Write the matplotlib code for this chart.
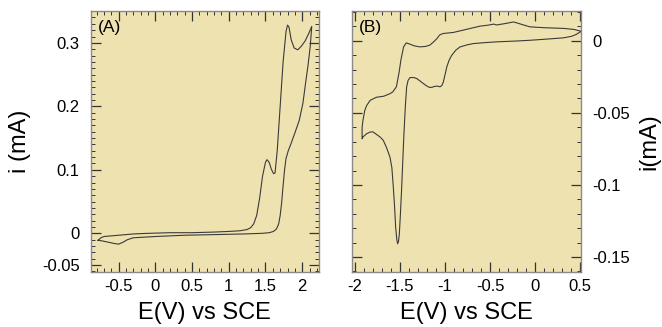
import numpy as np
import matplotlib.pyplot as plt
from matplotlib.ticker import MultipleLocator

plt.rcParams['font.family'] = ['Liberation Sans', 'DejaVu Sans']

# Panel A: barrido de ida y vuelta (E en V, i en mA)
e_a_ida = [-0.78, -0.74, -0.70, -0.60, -0.50, -0.30, -0.10, 0.20, 0.50, 0.80, 1.00,
           1.15, 1.25, 1.30, 1.34, 1.38, 1.42, 1.46, 1.50, 1.52, 1.55, 1.58, 1.61,
           1.63, 1.66, 1.70, 1.74, 1.78, 1.80, 1.82, 1.85, 1.89, 1.94, 1.99, 2.04,
           2.09, 2.13]
i_a_ida = [-0.011, -0.007, -0.005, -0.004, -0.003, -0.001, 0.000, 0.001, 0.001,
           0.002, 0.003, 0.004, 0.006, 0.009, 0.015, 0.028, 0.055, 0.090, 0.112,
           0.116, 0.112, 0.101, 0.094, 0.095, 0.130, 0.200, 0.270, 0.318, 0.328,
           0.325, 0.305, 0.292, 0.289, 0.295, 0.303, 0.315, 0.326]
e_a_vuelta = [2.13, 2.11, 2.08, 2.05, 2.01, 1.96, 1.90, 1.85, 1.81, 1.78, 1.76,
              1.74, 1.72, 1.70, 1.68, 1.65, 1.61, 1.55, 1.45, 1.20, 0.80, 0.40,
              0.00, -0.30, -0.38, -0.44, -0.50, -0.56, -0.64, -0.72, -0.78]
i_a_vuelta = [0.326, 0.295, 0.265, 0.240, 0.205, 0.178, 0.158, 0.142, 0.130,
              0.118, 0.100, 0.075, 0.048, 0.028, 0.015, 0.007, 0.003, 0.001,
              0.000, -0.001, -0.002, -0.003, -0.005, -0.007, -0.010, -0.014,
              -0.017, -0.016, -0.014, -0.012, -0.011]

# Panel B
e_b_ida = [0.51, 0.43, 0.32, 0.10, -0.06, -0.24, -0.34, -0.43, -0.46, -0.52,
           -0.61, -0.70, -0.80, -0.91, -1.02, -1.06, -1.09, -1.13, -1.17, -1.22,
           -1.28, -1.34, -1.39, -1.43, -1.46, -1.49, -1.51, -1.54, -1.58, -1.61,
           -1.68, -1.76, -1.83, -1.87, -1.89, -1.91, -1.92, -1.92]
i_b_ida = [0.0065, 0.0078, 0.0085, 0.0090, 0.0096, 0.0130, 0.0118, 0.0109,
           0.0115, 0.0108, 0.0101, 0.0088, 0.0073, 0.0057, 0.0050, 0.0040,
           0.0015, -0.0010, -0.0031, -0.0040, -0.0043, -0.0036, -0.0024,
           -0.0015, -0.0043, -0.0135, -0.0220, -0.0320, -0.0355, -0.0367,
           -0.0385, -0.0392, -0.0413, -0.0450, -0.0483, -0.0550, -0.0600, -0.0680]
e_b_vuelta = [-1.92, -1.91, -1.87, -1.83, -1.80, -1.76, -1.72, -1.685, -1.65,
              -1.611, -1.59, -1.574, -1.56, -1.548, -1.535, -1.526, -1.516,
              -1.507, -1.495, -1.481, -1.468, -1.456, -1.44, -1.426, -1.41,
              -1.389, -1.35, -1.315, -1.28, -1.241, -1.20, -1.167, -1.14, -1.111,
              -1.08, -1.056, -1.035, -1.019, -1.00, -0.981, -0.955, -0.926,
              -0.88, -0.833, -0.75, -0.685, -0.55, -0.426, -0.20, -0.056, 0.15,
              0.315, 0.40, 0.45, 0.51]
i_b_vuelta = [-0.0680, -0.0667, -0.0645, -0.0633, -0.0632, -0.0650, -0.0668,
              -0.0691, -0.0740, -0.0807, -0.0880, -0.1015, -0.1150, -0.1293,
              -0.1380, -0.1408, -0.1390, -0.1339, -0.1200, -0.1015, -0.0820,
              -0.0644, -0.0450, -0.0320, -0.0275, -0.0256, -0.0255, -0.0262,
              -0.0278, -0.0297, -0.0315, -0.0325, -0.0322, -0.0316, -0.0315,
              -0.0320, -0.0310, -0.0286, -0.0235, -0.0182, -0.0135, -0.0101,
              -0.0065, -0.0043, -0.0028, -0.0020, -0.0013, -0.0008, -0.0002,
              0.0003, 0.0012, 0.0020, 0.0030, 0.0042, 0.0065]

fondo = '#efe2b1'
color_linea = '#3a3a3a'

fig = plt.figure(figsize=(6.62, 3.27), dpi=100)
ax_a = fig.add_axes([0.137, 0.168, 0.345, 0.798])
ax_b = fig.add_axes([0.532, 0.168, 0.346, 0.798])

for ax in (ax_a, ax_b):
    ax.set_facecolor(fondo)
    for s in ax.spines.values():
        s.set_color('#8a8a8a')
        s.set_linewidth(1.0)
    ax.tick_params(which='both', direction='in', top=True, right=True,
                   left=True, bottom=True, labelsize=12, color='#333333')
    ax.tick_params(which='major', length=7, width=0.9)
    ax.tick_params(which='minor', length=3, width=0.7)

# ----- Panel A -----
ax_a.plot(e_a_ida + e_a_vuelta, i_a_ida + i_a_vuelta, color=color_linea, lw=0.8)
ax_a.set_xlim(-0.88, 2.23)
ax_a.set_ylim(-0.061, 0.35)
ax_a.set_xticks([-0.5, 0, 0.5, 1, 1.5, 2])
ax_a.set_xticklabels(['-0.5', '0', '0.5', '1', '1.5', '2'])
ax_a.xaxis.set_minor_locator(MultipleLocator(0.1))
ax_a.set_yticks([-0.05, 0, 0.1, 0.2, 0.3])
ax_a.set_yticklabels(['-0.05', '0', '0.1', '0.2', '0.3'])
ax_a.yaxis.set_minor_locator(MultipleLocator(0.01))
ax_a.tick_params(axis='x', which='major', pad=5)
ax_a.tick_params(axis='y', which='major', pad=8)
ax_a.set_xlabel('E(V) vs SCE', fontsize=17, labelpad=6)
ax_a.set_ylabel('i (mA)', fontsize=17, labelpad=8)
ax_a.text(0.03, 0.965, '(A)', transform=ax_a.transAxes, fontsize=12.5,
          ha='left', va='top')

# ----- Panel B -----
ax_b.plot(e_b_ida + e_b_vuelta, i_b_ida + i_b_vuelta, color=color_linea, lw=0.8)
ax_b.set_xlim(-2.03, 0.51)
ax_b.set_ylim(-0.1604, 0.0205)
ax_b.set_xticks([-2, -1.5, -1, -0.5, 0, 0.5])
ax_b.set_xticklabels(['-2', '-1.5', '-1', '-0.5', '0', '0.5'])
ax_b.xaxis.set_minor_locator(MultipleLocator(0.1))
ax_b.set_yticks([-0.15, -0.1, -0.05, 0])
ax_b.set_yticklabels(['-0.15', '-0.1', '-0.05', '0'])
ax_b.yaxis.set_minor_locator(MultipleLocator(0.01))
ax_b.yaxis.tick_right()
ax_b.tick_params(which='both', left=True, right=True)
ax_b.yaxis.set_label_position('right')
ax_b.tick_params(axis='x', which='major', pad=5)
ax_b.tick_params(axis='y', which='major', pad=8)
ax_b.set_xlabel('E(V) vs SCE', fontsize=17, labelpad=6)
ax_b.set_ylabel('i(mA)', fontsize=17, labelpad=6)
ax_b.text(0.03, 0.965, '(B)', transform=ax_b.transAxes, fontsize=12.5,
          ha='left', va='top')

fig.savefig('out.png', dpi=100)
